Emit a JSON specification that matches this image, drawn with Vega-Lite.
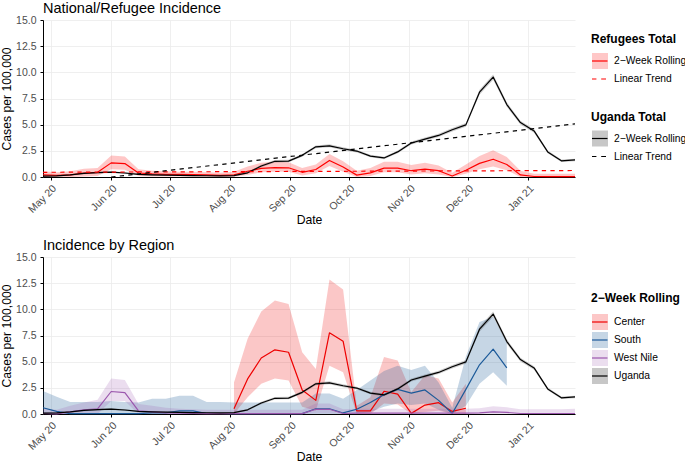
{
  "$schema": "https://vega.github.io/schema/vega-lite/v6.json",
  "padding": {"left": 0, "top": 0, "right": 0, "bottom": 0},
  "spacing": 11,
  "config": {
    "font": "Liberation Sans",
    "view": {"stroke": null},
    "axis": {"domainColor": "#000000", "domainWidth": 1, "tickColor": "#000000", "tickSize": 3, "tickWidth": 1, "gridColor": "#ebebeb", "gridWidth": 0.8, "labelColor": "#4d4d4d", "labelFontSize": 10.5, "titleFontSize": 12.2, "titleFontWeight": "normal", "titleColor": "#000000", "labelPadding": 3},
    "axisY": {"labelPadding": 4, "titlePadding": 2},
    "axisX": {"titlePadding": -1},
    "title": {"anchor": "start", "frame": "group", "fontSize": 14.5, "fontWeight": "normal", "color": "#000000", "offset": -1},
    "legend": {"titleFontSize": 12, "titleFontWeight": "bold", "titleColor": "#000000", "labelFontSize": 10.3, "labelColor": "#000000", "padding": 0, "symbolStrokeWidth": 1.2, "symbolSize": 256, "labelOffset": 5, "rowPadding": 1.5, "titlePadding": 6}
  },
  "resolve": {"scale": {"stroke": "independent", "fill": "independent", "shape": "independent"}, "legend": {"stroke": "independent", "fill": "independent", "shape": "independent"}},
  "datasets": {
    "trend": [
      {"d": "2020-04-27", "s": "Refugees", "v": 0.45},
      {"d": "2021-01-25", "s": "Refugees", "v": 0.62},
      {"d": "2020-06-01", "s": "Uganda", "v": 0.0},
      {"d": "2021-01-25", "s": "Uganda", "v": 5.07}
    ],
    "weekly": [
      {"d": "2020-04-27", "s": "Uganda", "v": 0.08, "lo": 0.02, "hi": 0.14},
      {"d": "2020-05-04", "s": "Uganda", "v": 0.10, "lo": 0.04, "hi": 0.16},
      {"d": "2020-05-11", "s": "Uganda", "v": 0.20, "lo": 0.13, "hi": 0.27},
      {"d": "2020-05-18", "s": "Uganda", "v": 0.35, "lo": 0.27, "hi": 0.43},
      {"d": "2020-05-25", "s": "Uganda", "v": 0.42, "lo": 0.34, "hi": 0.50},
      {"d": "2020-06-01", "s": "Uganda", "v": 0.47, "lo": 0.39, "hi": 0.55},
      {"d": "2020-06-08", "s": "Uganda", "v": 0.38, "lo": 0.30, "hi": 0.46},
      {"d": "2020-06-15", "s": "Uganda", "v": 0.25, "lo": 0.18, "hi": 0.32},
      {"d": "2020-06-22", "s": "Uganda", "v": 0.20, "lo": 0.13, "hi": 0.27},
      {"d": "2020-06-29", "s": "Uganda", "v": 0.17, "lo": 0.10, "hi": 0.24},
      {"d": "2020-07-06", "s": "Uganda", "v": 0.15, "lo": 0.09, "hi": 0.21},
      {"d": "2020-07-13", "s": "Uganda", "v": 0.14, "lo": 0.08, "hi": 0.20},
      {"d": "2020-07-20", "s": "Uganda", "v": 0.12, "lo": 0.06, "hi": 0.18},
      {"d": "2020-07-27", "s": "Uganda", "v": 0.10, "lo": 0.05, "hi": 0.15},
      {"d": "2020-08-03", "s": "Uganda", "v": 0.13, "lo": 0.07, "hi": 0.19},
      {"d": "2020-08-10", "s": "Uganda", "v": 0.40, "lo": 0.32, "hi": 0.48},
      {"d": "2020-08-17", "s": "Uganda", "v": 1.05, "lo": 0.94, "hi": 1.16},
      {"d": "2020-08-24", "s": "Uganda", "v": 1.50, "lo": 1.38, "hi": 1.62},
      {"d": "2020-08-31", "s": "Uganda", "v": 1.52, "lo": 1.40, "hi": 1.64},
      {"d": "2020-09-07", "s": "Uganda", "v": 2.07, "lo": 1.94, "hi": 2.20},
      {"d": "2020-09-14", "s": "Uganda", "v": 2.88, "lo": 2.74, "hi": 3.02},
      {"d": "2020-09-21", "s": "Uganda", "v": 2.98, "lo": 2.84, "hi": 3.12},
      {"d": "2020-09-28", "s": "Uganda", "v": 2.70, "lo": 2.56, "hi": 2.84},
      {"d": "2020-10-05", "s": "Uganda", "v": 2.48, "lo": 2.35, "hi": 2.61},
      {"d": "2020-10-12", "s": "Uganda", "v": 2.00, "lo": 1.88, "hi": 2.12},
      {"d": "2020-10-19", "s": "Uganda", "v": 1.82, "lo": 1.70, "hi": 1.94},
      {"d": "2020-10-26", "s": "Uganda", "v": 2.40, "lo": 2.27, "hi": 2.53},
      {"d": "2020-11-02", "s": "Uganda", "v": 3.25, "lo": 3.10, "hi": 3.40},
      {"d": "2020-11-09", "s": "Uganda", "v": 3.62, "lo": 3.47, "hi": 3.77},
      {"d": "2020-11-16", "s": "Uganda", "v": 3.97, "lo": 3.81, "hi": 4.13},
      {"d": "2020-11-23", "s": "Uganda", "v": 4.52, "lo": 4.35, "hi": 4.69},
      {"d": "2020-11-30", "s": "Uganda", "v": 4.98, "lo": 4.80, "hi": 5.16},
      {"d": "2020-12-07", "s": "Uganda", "v": 8.10, "lo": 7.87, "hi": 8.33},
      {"d": "2020-12-14", "s": "Uganda", "v": 9.55, "lo": 9.30, "hi": 9.80},
      {"d": "2020-12-21", "s": "Uganda", "v": 6.92, "lo": 6.70, "hi": 7.14},
      {"d": "2020-12-28", "s": "Uganda", "v": 5.20, "lo": 5.02, "hi": 5.38},
      {"d": "2021-01-04", "s": "Uganda", "v": 4.40, "lo": 4.23, "hi": 4.57},
      {"d": "2021-01-11", "s": "Uganda", "v": 2.40, "lo": 2.27, "hi": 2.53},
      {"d": "2021-01-18", "s": "Uganda", "v": 1.55, "lo": 1.43, "hi": 1.67},
      {"d": "2021-01-25", "s": "Uganda", "v": 1.63, "lo": 1.51, "hi": 1.75},

      {"d": "2020-04-27", "s": "Refugees", "v": 0.20, "lo": 0.0, "hi": 0.55},
      {"d": "2020-05-04", "s": "Refugees", "v": 0.15, "lo": 0.0, "hi": 0.45},
      {"d": "2020-05-11", "s": "Refugees", "v": 0.20, "lo": 0.0, "hi": 0.55},
      {"d": "2020-05-18", "s": "Refugees", "v": 0.38, "lo": 0.05, "hi": 0.78},
      {"d": "2020-05-25", "s": "Refugees", "v": 0.45, "lo": 0.10, "hi": 0.85},
      {"d": "2020-06-01", "s": "Refugees", "v": 1.35, "lo": 0.75, "hi": 2.05},
      {"d": "2020-06-08", "s": "Refugees", "v": 1.28, "lo": 0.70, "hi": 1.95},
      {"d": "2020-06-15", "s": "Refugees", "v": 0.38, "lo": 0.10, "hi": 0.75},
      {"d": "2020-06-22", "s": "Refugees", "v": 0.30, "lo": 0.05, "hi": 0.60},
      {"d": "2020-06-29", "s": "Refugees", "v": 0.25, "lo": 0.05, "hi": 0.55},
      {"d": "2020-07-06", "s": "Refugees", "v": 0.25, "lo": 0.05, "hi": 0.50},
      {"d": "2020-07-13", "s": "Refugees", "v": 0.22, "lo": 0.05, "hi": 0.50},
      {"d": "2020-07-20", "s": "Refugees", "v": 0.20, "lo": 0.03, "hi": 0.45},
      {"d": "2020-07-27", "s": "Refugees", "v": 0.15, "lo": 0.0, "hi": 0.40},
      {"d": "2020-08-03", "s": "Refugees", "v": 0.20, "lo": 0.03, "hi": 0.50},
      {"d": "2020-08-10", "s": "Refugees", "v": 0.55, "lo": 0.20, "hi": 1.00},
      {"d": "2020-08-17", "s": "Refugees", "v": 0.82, "lo": 0.45, "hi": 1.35},
      {"d": "2020-08-24", "s": "Refugees", "v": 0.90, "lo": 0.50, "hi": 1.45},
      {"d": "2020-08-31", "s": "Refugees", "v": 0.88, "lo": 0.50, "hi": 1.40},
      {"d": "2020-09-07", "s": "Refugees", "v": 0.45, "lo": 0.15, "hi": 0.85},
      {"d": "2020-09-14", "s": "Refugees", "v": 0.72, "lo": 0.35, "hi": 1.20},
      {"d": "2020-09-21", "s": "Refugees", "v": 1.58, "lo": 1.05, "hi": 2.20},
      {"d": "2020-09-28", "s": "Refugees", "v": 0.95, "lo": 0.50, "hi": 1.50},
      {"d": "2020-10-05", "s": "Refugees", "v": 0.18, "lo": 0.0, "hi": 0.60},
      {"d": "2020-10-12", "s": "Refugees", "v": 0.40, "lo": 0.10, "hi": 0.85},
      {"d": "2020-10-19", "s": "Refugees", "v": 0.85, "lo": 0.45, "hi": 1.45},
      {"d": "2020-10-26", "s": "Refugees", "v": 0.85, "lo": 0.45, "hi": 1.45},
      {"d": "2020-11-02", "s": "Refugees", "v": 0.60, "lo": 0.25, "hi": 1.15},
      {"d": "2020-11-09", "s": "Refugees", "v": 0.75, "lo": 0.35, "hi": 1.35},
      {"d": "2020-11-16", "s": "Refugees", "v": 0.60, "lo": 0.25, "hi": 1.10},
      {"d": "2020-11-23", "s": "Refugees", "v": 0.10, "lo": 0.0, "hi": 0.40},
      {"d": "2020-11-30", "s": "Refugees", "v": 0.65, "lo": 0.30, "hi": 1.20},
      {"d": "2020-12-07", "s": "Refugees", "v": 1.30, "lo": 0.75, "hi": 2.00},
      {"d": "2020-12-14", "s": "Refugees", "v": 1.70, "lo": 1.00, "hi": 2.55},
      {"d": "2020-12-21", "s": "Refugees", "v": 1.20, "lo": 0.65, "hi": 1.90},
      {"d": "2020-12-28", "s": "Refugees", "v": 0.20, "lo": 0.0, "hi": 0.60},
      {"d": "2021-01-04", "s": "Refugees", "v": 0.05, "lo": 0.0, "hi": 0.30},
      {"d": "2021-01-11", "s": "Refugees", "v": 0.03, "lo": 0.0, "hi": 0.30},
      {"d": "2021-01-18", "s": "Refugees", "v": 0.03, "lo": 0.0, "hi": 0.30},
      {"d": "2021-01-25", "s": "Refugees", "v": 0.03, "lo": 0.0, "hi": 0.30},

      {"d": "2020-08-03", "s": "Center", "v": 0.50, "lo": 0.0, "hi": 3.0},
      {"d": "2020-08-10", "s": "Center", "v": 3.35, "lo": 1.6, "hi": 7.2},
      {"d": "2020-08-17", "s": "Center", "v": 5.35, "lo": 2.9, "hi": 9.8},
      {"d": "2020-08-24", "s": "Center", "v": 6.13, "lo": 3.4, "hi": 10.85},
      {"d": "2020-08-31", "s": "Center", "v": 5.90, "lo": 3.2, "hi": 10.5},
      {"d": "2020-09-07", "s": "Center", "v": 2.30, "lo": 0.7, "hi": 5.9},
      {"d": "2020-09-14", "s": "Center", "v": 1.30, "lo": 0.3, "hi": 4.3},
      {"d": "2020-09-21", "s": "Center", "v": 7.76, "lo": 4.6, "hi": 12.85},
      {"d": "2020-09-28", "s": "Center", "v": 6.96, "lo": 4.0, "hi": 11.9},
      {"d": "2020-10-05", "s": "Center", "v": 0.30, "lo": 0.0, "hi": 0.8},
      {"d": "2020-10-12", "s": "Center", "v": 0.30, "lo": 0.0, "hi": 1.6},
      {"d": "2020-10-19", "s": "Center", "v": 2.17, "lo": 1.0, "hi": 5.45},
      {"d": "2020-10-26", "s": "Center", "v": 1.90, "lo": 0.9, "hi": 5.1},
      {"d": "2020-11-02", "s": "Center", "v": 0.06, "lo": 0.0, "hi": 2.1},
      {"d": "2020-11-09", "s": "Center", "v": 0.85, "lo": 0.2, "hi": 3.7},
      {"d": "2020-11-16", "s": "Center", "v": 1.08, "lo": 0.3, "hi": 3.4},
      {"d": "2020-11-23", "s": "Center", "v": 0.25, "lo": 0.0, "hi": 1.1},
      {"d": "2020-11-30", "s": "Center", "v": 0.55, "lo": 0.0, "hi": 2.9},

      {"d": "2020-04-27", "s": "South", "v": 0.60, "lo": 0.0, "hi": 2.2},
      {"d": "2020-05-04", "s": "South", "v": 0.25, "lo": 0.0, "hi": 1.65},
      {"d": "2020-05-11", "s": "South", "v": 0.03, "lo": 0.0, "hi": 1.15},
      {"d": "2020-05-18", "s": "South", "v": 0.03, "lo": 0.0, "hi": 1.15},
      {"d": "2020-05-25", "s": "South", "v": 0.03, "lo": 0.0, "hi": 1.15},
      {"d": "2020-06-01", "s": "South", "v": 0.03, "lo": 0.0, "hi": 1.25},
      {"d": "2020-06-08", "s": "South", "v": 0.03, "lo": 0.0, "hi": 1.15},
      {"d": "2020-06-15", "s": "South", "v": 0.03, "lo": 0.0, "hi": 1.1},
      {"d": "2020-06-22", "s": "South", "v": 0.10, "lo": 0.0, "hi": 1.45},
      {"d": "2020-06-29", "s": "South", "v": 0.10, "lo": 0.0, "hi": 1.45},
      {"d": "2020-07-06", "s": "South", "v": 0.30, "lo": 0.0, "hi": 1.75},
      {"d": "2020-07-13", "s": "South", "v": 0.30, "lo": 0.0, "hi": 1.75},
      {"d": "2020-07-20", "s": "South", "v": 0.05, "lo": 0.0, "hi": 1.15},
      {"d": "2020-07-27", "s": "South", "v": 0.05, "lo": 0.0, "hi": 1.15},
      {"d": "2020-08-03", "s": "South", "v": 0.03, "lo": 0.0, "hi": 1.1},
      {"d": "2020-08-10", "s": "South", "v": 0.03, "lo": 0.0, "hi": 1.1},
      {"d": "2020-08-17", "s": "South", "v": 0.03, "lo": 0.0, "hi": 1.1},
      {"d": "2020-08-24", "s": "South", "v": 0.03, "lo": 0.0, "hi": 1.1},
      {"d": "2020-08-31", "s": "South", "v": 0.03, "lo": 0.0, "hi": 1.1},
      {"d": "2020-09-07", "s": "South", "v": 0.03, "lo": 0.0, "hi": 1.1},
      {"d": "2020-09-14", "s": "South", "v": 0.50, "lo": 0.0, "hi": 1.95},
      {"d": "2020-09-21", "s": "South", "v": 0.50, "lo": 0.0, "hi": 1.95},
      {"d": "2020-09-28", "s": "South", "v": 0.10, "lo": 0.0, "hi": 1.45},
      {"d": "2020-10-05", "s": "South", "v": 0.45, "lo": 0.0, "hi": 2.3},
      {"d": "2020-10-12", "s": "South", "v": 1.10, "lo": 0.2, "hi": 3.2},
      {"d": "2020-10-19", "s": "South", "v": 1.85, "lo": 0.7, "hi": 4.1},
      {"d": "2020-10-26", "s": "South", "v": 2.35, "lo": 1.0, "hi": 4.6},
      {"d": "2020-11-02", "s": "South", "v": 2.00, "lo": 0.85, "hi": 4.2},
      {"d": "2020-11-09", "s": "South", "v": 2.30, "lo": 1.0, "hi": 4.6},
      {"d": "2020-11-16", "s": "South", "v": 1.30, "lo": 0.4, "hi": 3.0},
      {"d": "2020-11-23", "s": "South", "v": 0.05, "lo": 0.0, "hi": 0.6},
      {"d": "2020-11-30", "s": "South", "v": 2.35, "lo": 0.8, "hi": 5.5},
      {"d": "2020-12-07", "s": "South", "v": 4.70, "lo": 2.9, "hi": 8.8},
      {"d": "2020-12-14", "s": "South", "v": 6.20, "lo": 4.0, "hi": 9.3},
      {"d": "2020-12-21", "s": "South", "v": 4.40, "lo": 2.7, "hi": 6.8},

      {"d": "2020-04-27", "s": "West Nile", "v": 0.05, "lo": 0.0, "hi": 0.5},
      {"d": "2020-05-04", "s": "West Nile", "v": 0.02, "lo": 0.0, "hi": 0.4},
      {"d": "2020-05-11", "s": "West Nile", "v": 0.20, "lo": 0.0, "hi": 0.8},
      {"d": "2020-05-18", "s": "West Nile", "v": 0.40, "lo": 0.0, "hi": 1.1},
      {"d": "2020-05-25", "s": "West Nile", "v": 0.50, "lo": 0.0, "hi": 1.35},
      {"d": "2020-06-01", "s": "West Nile", "v": 2.15, "lo": 1.25, "hi": 3.4},
      {"d": "2020-06-08", "s": "West Nile", "v": 2.05, "lo": 1.25, "hi": 3.25},
      {"d": "2020-06-15", "s": "West Nile", "v": 0.30, "lo": 0.0, "hi": 0.95},
      {"d": "2020-06-22", "s": "West Nile", "v": 0.20, "lo": 0.0, "hi": 0.8},
      {"d": "2020-06-29", "s": "West Nile", "v": 0.10, "lo": 0.0, "hi": 0.6},
      {"d": "2020-07-06", "s": "West Nile", "v": 0.08, "lo": 0.0, "hi": 0.5},
      {"d": "2020-07-13", "s": "West Nile", "v": 0.05, "lo": 0.0, "hi": 0.45},
      {"d": "2020-07-20", "s": "West Nile", "v": 0.03, "lo": 0.0, "hi": 0.4},
      {"d": "2020-07-27", "s": "West Nile", "v": 0.03, "lo": 0.0, "hi": 0.4},
      {"d": "2020-08-03", "s": "West Nile", "v": 0.03, "lo": 0.0, "hi": 0.4},
      {"d": "2020-08-10", "s": "West Nile", "v": 0.03, "lo": 0.0, "hi": 0.4},
      {"d": "2020-08-17", "s": "West Nile", "v": 0.03, "lo": 0.0, "hi": 0.4},
      {"d": "2020-08-24", "s": "West Nile", "v": 0.03, "lo": 0.0, "hi": 0.4},
      {"d": "2020-08-31", "s": "West Nile", "v": 0.03, "lo": 0.0, "hi": 0.4},
      {"d": "2020-09-07", "s": "West Nile", "v": 0.03, "lo": 0.0, "hi": 0.4},
      {"d": "2020-09-14", "s": "West Nile", "v": 0.45, "lo": 0.05, "hi": 1.0},
      {"d": "2020-09-21", "s": "West Nile", "v": 0.45, "lo": 0.05, "hi": 1.0},
      {"d": "2020-09-28", "s": "West Nile", "v": 0.05, "lo": 0.0, "hi": 0.45},
      {"d": "2020-10-05", "s": "West Nile", "v": 0.08, "lo": 0.0, "hi": 0.5},
      {"d": "2020-10-12", "s": "West Nile", "v": 0.08, "lo": 0.0, "hi": 0.5},
      {"d": "2020-10-19", "s": "West Nile", "v": 0.08, "lo": 0.0, "hi": 0.5},
      {"d": "2020-10-26", "s": "West Nile", "v": 0.08, "lo": 0.0, "hi": 0.5},
      {"d": "2020-11-02", "s": "West Nile", "v": 0.08, "lo": 0.0, "hi": 0.5},
      {"d": "2020-11-09", "s": "West Nile", "v": 0.08, "lo": 0.0, "hi": 0.5},
      {"d": "2020-11-16", "s": "West Nile", "v": 0.08, "lo": 0.0, "hi": 0.5},
      {"d": "2020-11-23", "s": "West Nile", "v": 0.08, "lo": 0.0, "hi": 0.5},
      {"d": "2020-11-30", "s": "West Nile", "v": 0.08, "lo": 0.0, "hi": 0.5},
      {"d": "2020-12-07", "s": "West Nile", "v": 0.10, "lo": 0.0, "hi": 0.55},
      {"d": "2020-12-14", "s": "West Nile", "v": 0.20, "lo": 0.0, "hi": 0.75},
      {"d": "2020-12-21", "s": "West Nile", "v": 0.15, "lo": 0.0, "hi": 0.65},
      {"d": "2020-12-28", "s": "West Nile", "v": 0.05, "lo": 0.0, "hi": 0.45},
      {"d": "2021-01-04", "s": "West Nile", "v": 0.05, "lo": 0.0, "hi": 0.45},
      {"d": "2021-01-11", "s": "West Nile", "v": 0.05, "lo": 0.0, "hi": 0.45},
      {"d": "2021-01-18", "s": "West Nile", "v": 0.05, "lo": 0.0, "hi": 0.45},
      {"d": "2021-01-25", "s": "West Nile", "v": 0.05, "lo": 0.0, "hi": 0.5}
    ]
  },
  "vconcat": [
    {
      "title": {"text": "National/Refugee Incidence"},
      "width": 532,
      "height": 157,
      "data": {"name": "weekly"},
      "resolve": {"scale": {"stroke": "independent", "fill": "independent", "shape": "independent"}, "legend": {"stroke": "independent", "fill": "independent", "shape": "independent"}},
      "encoding": {
        "x": {"field": "d", "type": "temporal", "scale": {"type": "utc", "domain": [{"year": 2020, "month": 4, "date": 27, "utc": true}, {"year": 2021, "month": 1, "date": 25, "utc": true}]}, "axis": {"title": "Date", "format": "%b %y", "tickCount": {"interval": "month", "step": 1}, "labelAngle": -45, "grid": true}},
        "y": {"field": "v", "type": "quantitative", "title": "Cases per 100,000", "scale": {"domain": [0, 15], "nice": false}, "axis": {"values": [0, 2.5, 5, 7.5, 10, 12.5, 15], "format": ".1f", "grid": true, "labelOverlap": false, "labelBound": false}}
      },
      "layer": [
        {
          "transform": [{"filter": "datum.s == 'Refugees'"}],
          "mark": {"type": "area", "fill": "#ff0000", "fillOpacity": 0.22},
          "encoding": {"y": {"field": "lo", "type": "quantitative", "title": "Cases per 100,000", "scale": {"domain": [0, 15], "nice": false}, "axis": {"values": [0, 2.5, 5, 7.5, 10, 12.5, 15], "format": ".1f", "grid": true, "labelOverlap": false, "labelBound": false}}, "y2": {"field": "hi"}}
        },
        {
          "transform": [{"filter": "datum.s == 'Uganda'"}],
          "mark": {"type": "area", "fill": "#000000", "fillOpacity": 0.2},
          "encoding": {"y": {"field": "lo", "type": "quantitative", "title": "Cases per 100,000", "scale": {"domain": [0, 15], "nice": false}, "axis": {"values": [0, 2.5, 5, 7.5, 10, 12.5, 15], "format": ".1f", "grid": true, "labelOverlap": false, "labelBound": false}}, "y2": {"field": "hi"}}
        },
        {
          "transform": [{"filter": "datum.s == 'Refugees'"}],
          "mark": {"type": "line", "stroke": "#ff0000", "strokeWidth": 1.2, "strokeJoin": "round"}
        },
        {
          "transform": [{"filter": "datum.s == 'Uganda'"}],
          "mark": {"type": "line", "stroke": "#000000", "strokeWidth": 1.2, "strokeJoin": "round"}
        },
        {
          "data": {"name": "trend"},
          "transform": [{"filter": "datum.s == 'Refugees'"}],
          "mark": {"type": "line", "stroke": "#ff0000", "strokeWidth": 1.2, "strokeDash": [4.3, 4.3]}
        },
        {
          "data": {"name": "trend"},
          "transform": [{"filter": "datum.s == 'Uganda'"}],
          "mark": {"type": "line", "stroke": "#000000", "strokeWidth": 1.2, "strokeDash": [4.3, 4.3]}
        },
        {
          "data": {"values": [{"k": "r_roll"}, {"k": "r_trend"}]},
          "mark": {"type": "point", "opacity": 1, "filled": true, "strokeJoin": "round"},
          "encoding": {
            "stroke": {"field": "k", "type": "nominal", "scale": {"domain": ["r_roll", "r_trend"], "range": ["#ff0000", "#ff0000"]}, "legend": {"title": "Refugees Total", "orient": "none", "legendX": 548, "legendY": 14, "rowPadding": -1.8, "labelExpr": "datum.value == 'r_roll' ? '2\u2212Week Rolling' : 'Linear Trend'", "symbolDash": [15.5, 300], "encoding": {"symbols": {"strokeJoin": {"value": "round"}}}}},
            "fill": {"field": "k", "type": "nominal", "scale": {"domain": ["r_roll", "r_trend"], "range": ["#ffc7c7", "transparent"]}, "legend": {"title": "Refugees Total", "orient": "none", "legendX": 548, "legendY": 14, "rowPadding": -1.8, "labelExpr": "datum.value == 'r_roll' ? '2\u2212Week Rolling' : 'Linear Trend'", "symbolDash": [15.5, 300], "encoding": {"symbols": {"strokeJoin": {"value": "round"}}}}},
            "shape": {"field": "k", "type": "nominal", "scale": {"domain": ["r_roll", "r_trend"], "range": ["M-1,0L1,0L1,-1L-1,-1L-1,1L1,1L1,0Z", "M-1,0H-0.45M0.15,0H0.75"]}, "legend": {"title": "Refugees Total", "orient": "none", "legendX": 548, "legendY": 14, "rowPadding": -1.8, "labelExpr": "datum.value == 'r_roll' ? '2\u2212Week Rolling' : 'Linear Trend'", "symbolDash": [15.5, 300], "encoding": {"symbols": {"strokeJoin": {"value": "round"}}}}}
          }
        },
        {
          "data": {"values": [{"k": "u_roll"}, {"k": "u_trend"}]},
          "mark": {"type": "point", "opacity": 1, "filled": true, "strokeJoin": "round"},
          "encoding": {
            "stroke": {"field": "k", "type": "nominal", "scale": {"domain": ["u_roll", "u_trend"], "range": ["#000000", "#000000"]}, "legend": {"title": "Uganda Total", "orient": "none", "legendX": 548, "legendY": 91.5, "rowPadding": -1.8, "labelExpr": "datum.value == 'u_roll' ? '2\u2212Week Rolling' : 'Linear Trend'", "symbolDash": [15.5, 300], "encoding": {"symbols": {"strokeJoin": {"value": "round"}}}}},
            "fill": {"field": "k", "type": "nominal", "scale": {"domain": ["u_roll", "u_trend"], "range": ["#c7c7c7", "transparent"]}, "legend": {"title": "Uganda Total", "orient": "none", "legendX": 548, "legendY": 91.5, "rowPadding": -1.8, "labelExpr": "datum.value == 'u_roll' ? '2\u2212Week Rolling' : 'Linear Trend'", "symbolDash": [15.5, 300], "encoding": {"symbols": {"strokeJoin": {"value": "round"}}}}},
            "shape": {"field": "k", "type": "nominal", "scale": {"domain": ["u_roll", "u_trend"], "range": ["M-1,0L1,0L1,-1L-1,-1L-1,1L1,1L1,0Z", "M-1,0H-0.45M0.15,0H0.75"]}, "legend": {"title": "Uganda Total", "orient": "none", "legendX": 548, "legendY": 91.5, "rowPadding": -1.8, "labelExpr": "datum.value == 'u_roll' ? '2\u2212Week Rolling' : 'Linear Trend'", "symbolDash": [15.5, 300], "encoding": {"symbols": {"strokeJoin": {"value": "round"}}}}}
          }
        }
      ]
    },
    {
      "title": {"text": "Incidence by Region"},
      "width": 532,
      "height": 157,
      "data": {"name": "weekly"},
      "encoding": {
        "x": {"field": "d", "type": "temporal", "scale": {"type": "utc", "domain": [{"year": 2020, "month": 4, "date": 27, "utc": true}, {"year": 2021, "month": 1, "date": 25, "utc": true}]}, "axis": {"title": "Date", "format": "%b %y", "tickCount": {"interval": "month", "step": 1}, "labelAngle": -45, "grid": true}},
        "y": {"field": "v", "type": "quantitative", "title": "Cases per 100,000", "scale": {"domain": [0, 15], "nice": false}, "axis": {"values": [0, 2.5, 5, 7.5, 10, 12.5, 15], "format": ".1f", "grid": true, "labelOverlap": false, "labelBound": false}}
      },
      "layer": [
        {
          "transform": [{"filter": "datum.s == 'Center'"}],
          "mark": {"type": "area", "fill": "#ee0000", "fillOpacity": 0.22},
          "encoding": {"y": {"field": "lo", "type": "quantitative", "title": "Cases per 100,000", "scale": {"domain": [0, 15], "nice": false}, "axis": {"values": [0, 2.5, 5, 7.5, 10, 12.5, 15], "format": ".1f", "grid": true, "labelOverlap": false, "labelBound": false}}, "y2": {"field": "hi"}}
        },
        {
          "transform": [{"filter": "datum.s == 'South'"}],
          "mark": {"type": "area", "fill": "#1c5a99", "fillOpacity": 0.25},
          "encoding": {"y": {"field": "lo", "type": "quantitative", "title": "Cases per 100,000", "scale": {"domain": [0, 15], "nice": false}, "axis": {"values": [0, 2.5, 5, 7.5, 10, 12.5, 15], "format": ".1f", "grid": true, "labelOverlap": false, "labelBound": false}}, "y2": {"field": "hi"}}
        },
        {
          "transform": [{"filter": "datum.s == 'West Nile'"}],
          "mark": {"type": "area", "fill": "#9b57ad", "fillOpacity": 0.2},
          "encoding": {"y": {"field": "lo", "type": "quantitative", "title": "Cases per 100,000", "scale": {"domain": [0, 15], "nice": false}, "axis": {"values": [0, 2.5, 5, 7.5, 10, 12.5, 15], "format": ".1f", "grid": true, "labelOverlap": false, "labelBound": false}}, "y2": {"field": "hi"}}
        },
        {
          "transform": [{"filter": "datum.s == 'Uganda'"}],
          "mark": {"type": "area", "fill": "#000000", "fillOpacity": 0.2},
          "encoding": {"y": {"field": "lo", "type": "quantitative", "title": "Cases per 100,000", "scale": {"domain": [0, 15], "nice": false}, "axis": {"values": [0, 2.5, 5, 7.5, 10, 12.5, 15], "format": ".1f", "grid": true, "labelOverlap": false, "labelBound": false}}, "y2": {"field": "hi"}}
        },
        {
          "transform": [{"filter": "datum.s == 'Center'"}],
          "mark": {"type": "line", "stroke": "#ee0000", "strokeWidth": 1.2, "strokeJoin": "round"}
        },
        {
          "transform": [{"filter": "datum.s == 'South'"}],
          "mark": {"type": "line", "stroke": "#1c5a99", "strokeWidth": 1.2, "strokeJoin": "round"}
        },
        {
          "transform": [{"filter": "datum.s == 'West Nile'"}],
          "mark": {"type": "line", "stroke": "#9b57ad", "strokeWidth": 1.2, "strokeJoin": "round"}
        },
        {
          "transform": [{"filter": "datum.s == 'Uganda'"}],
          "mark": {"type": "line", "stroke": "#000000", "strokeWidth": 1.2, "strokeJoin": "round"}
        },
        {
          "data": {"values": [{"k": "Center"}, {"k": "South"}, {"k": "West Nile"}, {"k": "Uganda"}]},
          "mark": {"type": "point", "opacity": 1, "filled": true, "strokeJoin": "round"},
          "encoding": {
            "stroke": {"field": "k", "type": "nominal", "scale": {"domain": ["Center", "South", "West Nile", "Uganda"], "range": ["#ee0000", "#1c5a99", "#9b57ad", "#000000"]}, "legend": {"title": "2\u2212Week Rolling", "orient": "none", "legendX": 548, "legendY": 36, "rowPadding": -0.6, "titlePadding": 8, "symbolType": "M-1,0L1,0L1,-1L-1,-1L-1,1L1,1L1,0Z", "symbolDash": [15.5, 300], "encoding": {"symbols": {"strokeJoin": {"value": "round"}}}}},
            "fill": {"field": "k", "type": "nominal", "scale": {"domain": ["Center", "South", "West Nile", "Uganda"], "range": ["#fcc7c7", "#c6d6e5", "#ebdeef", "#c7c7c7"]}, "legend": {"title": "2\u2212Week Rolling", "orient": "none", "legendX": 548, "legendY": 36, "rowPadding": -0.6, "titlePadding": 8, "symbolType": "M-1,0L1,0L1,-1L-1,-1L-1,1L1,1L1,0Z", "symbolDash": [15.5, 300], "encoding": {"symbols": {"strokeJoin": {"value": "round"}}}}}
          }
        }
      ]
    }
  ]
}
